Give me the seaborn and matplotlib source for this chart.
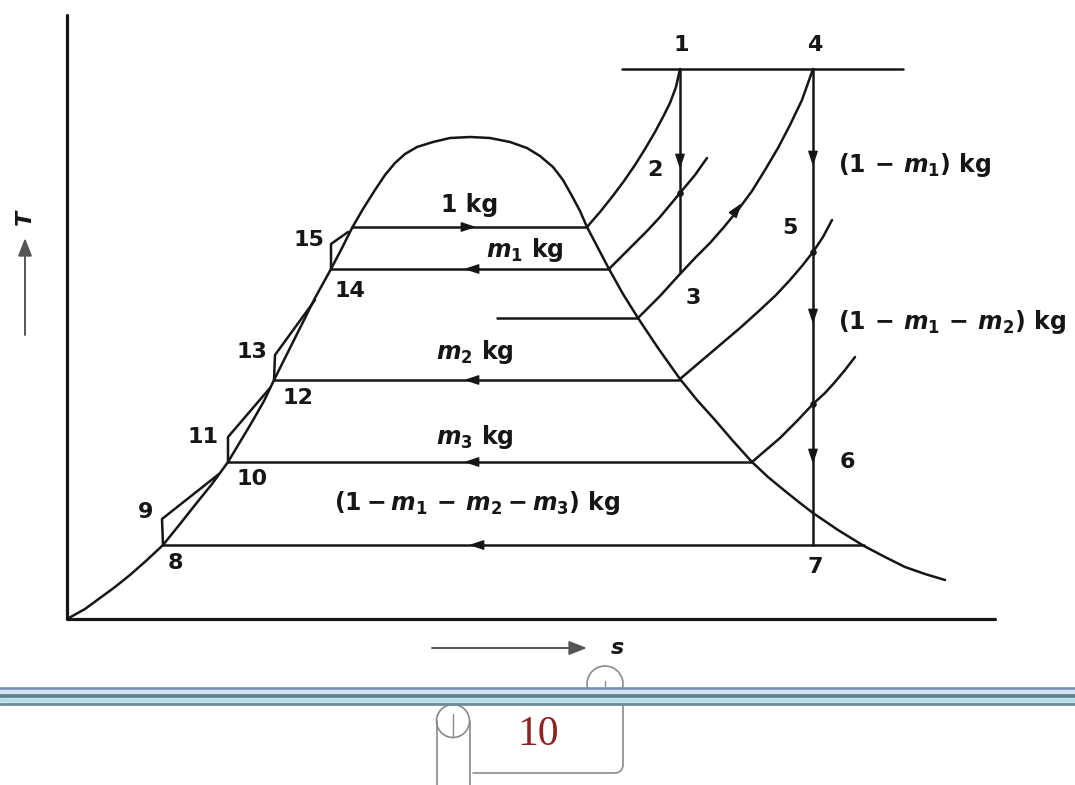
import numpy as np
import pandas as pd
import matplotlib
matplotlib.use("Agg")
import matplotlib.pyplot as plt
from matplotlib.patches import Arc
import seaborn as sns

# ---- T–s coordinates (origin at the corner of the axes) ----
# saturation dome: liquid line, critical region, vapour line
dome_s = [0, 18, 33, 48, 63, 80, 96, 113, 128, 145, 161, 173, 185, 197, 207,
          220, 233, 248, 264, 275, 285, 296, 308, 318, 328, 338, 350, 366, 383, 403,
          423, 443, 460, 473, 486, 496, 505, 513, 520, 531, 542, 556, 571, 591,
          613, 630, 648, 666, 685, 701, 718, 733, 746, 771, 797, 818, 838, 858, 878]
dome_T = [0, 10, 21, 32, 44, 59, 74, 95, 114, 135, 157, 177, 197, 218, 239,
          265, 291, 321, 350, 371, 391, 410, 429, 444, 456, 465, 472, 477, 481, 482,
          481, 477, 471, 463, 452, 439, 423, 408, 392, 371, 350, 325, 301, 271,
          240, 219, 199, 178, 157, 142, 128, 116, 106, 89, 73, 62, 52, 45, 39]

# constant-temperature lines inside the dome (left end, right end, level)
level_T = [392, 350, 301, 239, 157, 74]
level_s_left = [285, 264, 430, 207, 161, 96]
level_s_right = [520, 542, 571, 613, 685, 797]

# top pressure line through states 1 and 4
top_s = [555, 836]
top_T = [550, 550]

# isentropic expansions 1-3 and 4-7
exp13_s = [613, 613]
exp13_T = [550, 346]
exp47_s = [746, 746]
exp47_T = [550, 74]

# superheat pressure lines
supA_s = [520, 533, 545, 557, 568, 578, 588, 596, 603, 609, 613]
supA_T = [392, 407, 422, 438, 454, 470, 487, 502, 516, 532, 550]
supB_s = [542, 555, 568, 581, 593, 603, 613, 628, 640]
supB_T = [350, 363, 376, 389, 402, 414, 426, 444, 461]
supC_s = [571, 583, 593, 603, 613, 628, 643, 657, 671, 685, 698, 711, 723, 735, 746]
supC_T = [301, 313, 323, 334, 345, 361, 376, 392, 409, 428, 449, 471, 494, 519, 550]
supD_s = [613, 633, 653, 673, 693, 709, 723, 735, 746, 756, 765]
supD_T = [240, 257, 274, 291, 309, 324, 339, 353, 367, 382, 399]
supE_s = [685, 699, 713, 730, 746, 758, 768, 778, 788]
supE_T = [157, 169, 181, 198, 215, 226, 237, 249, 262]

# feed pump loops 8-9, 10-11, 12-13, 14-15
pump_s = [[96, 95, 152], [161, 161, 203], [207, 208, 248], [264, 264, 281]]
pump_T = [[74, 100, 145], [157, 182, 231], [239, 264, 319], [350, 375, 387]]

# bleed points on the expansion lines
bleed_s = [613, 746, 746]
bleed_T = [426, 367, 215]

# state labels
state_names = ["1", "4", "2", "5", "3", "6", "7",
               "15", "14", "13", "12", "11", "10", "9", "8"]
state_s = [614, 748, 588, 723, 626, 780, 748, 242, 283, 185, 231, 136, 185, 79, 108]
state_T = [574, 574, 449, 391, 321, 157, 52, 379, 328, 267, 221, 182, 140, 107, 56]

# mass-flow labels
mass_labels = [r"1 kg", r"$m_1$ kg", r"$m_2$ kg", r"$m_3$ kg",
               r"$(1- m_1 \,-\, m_2 - m_3)$ kg"]
mass_s = [403, 458, 408, 408, 410]
mass_T = [414, 369, 267, 182, 116]

side_labels = [r"$(1 \,-\, m_1)$ kg", r"$(1 \,-\, m_1 \,-\, m_2)$ kg"]
side_s = [771, 771]
side_T = [454, 297]

# flow-direction arrows: position and direction
arrow_s = [403, 403, 403, 403, 408, 613, 746, 746, 746, 671]
arrow_T = [392, 350, 239, 157, 74, 456, 459, 301, 161, 411]
arrow_dir = [(1, 0), (-1, 0), (-1, 0), (-1, 0), (-1, 0),
             (0, -1), (0, -1), (0, -1), (0, -1), (0.6, 0.8)]

INK = "#161616"

sns.set_theme(style="white")
plt.rcParams["font.family"] = ["DejaVu Sans"]
plt.rcParams["mathtext.fontset"] = "custom"
plt.rcParams["mathtext.rm"] = "DejaVu Sans:bold"
plt.rcParams["mathtext.it"] = "DejaVu Sans:italic:bold"
plt.rcParams["mathtext.bf"] = "DejaVu Sans:bold"

fig = plt.figure(figsize=(10.75, 7.85), dpi=100)
ax = fig.add_axes([0, 0, 1, 1])
ax.set_xlim(-67, 1008)
ax.set_ylim(-166, 619)
ax.axis("off")

# assemble all process lines into one long table
rows = []
def add_path(name, xs, ys):
    for x, y in zip(xs, ys):
        rows.append({"path": name, "s": x, "T": y})

add_path("dome", dome_s, dome_T)
for i, (a, b, t) in enumerate(zip(level_s_left, level_s_right, level_T)):
    add_path(f"level{i}", [a, b], [t, t])
add_path("top", top_s, top_T)
add_path("exp13", exp13_s, exp13_T)
add_path("exp47", exp47_s, exp47_T)
for name, xs, ys in [("A", supA_s, supA_T), ("B", supB_s, supB_T),
                     ("C", supC_s, supC_T), ("D", supD_s, supD_T),
                     ("E", supE_s, supE_T)]:
    add_path("sup" + name, xs, ys)
for i, (xs, ys) in enumerate(zip(pump_s, pump_T)):
    add_path(f"pump{i}", xs, ys)
paths = pd.DataFrame(rows)

sns.lineplot(data=paths, x="s", y="T", units="path", estimator=None, sort=False,
             color=INK, lw=1.8, legend=False, ax=ax)

# T and s axes
axes_df = pd.DataFrame({"s": [0, 0, 928], "T": [604, 0, 0]})
sns.lineplot(data=axes_df, x="s", y="T", estimator=None, sort=False,
             color=INK, lw=2.3, ax=ax)

# bleed points
sns.scatterplot(x=bleed_s, y=bleed_T, color=INK, s=22, linewidth=0, ax=ax)

# arrowheads
for x, y, (dx, dy) in zip(arrow_s, arrow_T, arrow_dir):
    ax.annotate("", xy=(x + 6 * dx, y + 6 * dy), xytext=(x - 6 * dx, y - 6 * dy),
                arrowprops=dict(arrowstyle="-|>,head_length=0.9,head_width=0.3",
                                mutation_scale=10, color=INK, lw=1.0,
                                shrinkA=0, shrinkB=0))

# labels
for name, x, y in zip(state_names, state_s, state_T):
    ax.text(x, y, name, ha="center", va="center", fontsize=16,
            fontweight="bold", color=INK)
for name, x, y in zip(mass_labels, mass_s, mass_T):
    ax.text(x, y, name, ha="center", va="center", fontsize=17,
            fontweight="bold", color=INK)
for name, x, y in zip(side_labels, side_s, side_T):
    ax.text(x, y, name, ha="left", va="center", fontsize=17,
            fontweight="bold", color=INK)

# axis titles with arrows
ax.annotate("", xy=(-42, 381), xytext=(-42, 284),
            arrowprops=dict(arrowstyle="-|>,head_length=0.9,head_width=0.35",
                            mutation_scale=12, color="#555555", lw=1.4,
                            shrinkA=0, shrinkB=0))
ax.text(-42, 402, "T", rotation=90, ha="center", va="center", fontsize=16,
        fontstyle="italic", fontweight="bold", color=INK)
ax.annotate("", xy=(520, -29), xytext=(365, -29),
            arrowprops=dict(arrowstyle="-|>,head_length=0.9,head_width=0.35",
                            mutation_scale=12, color="#555555", lw=1.4,
                            shrinkA=0, shrinkB=0))
ax.text(550, -29, "s", ha="center", va="center", fontsize=16,
        fontstyle="italic", fontweight="bold", color=INK)

# page footer: ruled band and scroll with the page number
ax.axhspan(-85, -68, color="#cfe4f2", lw=0)
band = [(-69, "#7a8fad", 1.8), (-76.5, "#5b7f8c", 2.6),
        (-80.5, "#aee0e6", 2.2), (-84.5, "#6f8c9c", 2.0)]
for y, c, w in band:
    ax.axhline(y, color=c, lw=w)

GREY = "#8a8a8a"
ax.add_patch(Arc((538, -65), 36, 36, theta1=-15, theta2=195, color=GREY, lw=1.2))
ax.plot([538, 538], [-62, -67], color=GREY, lw=1.0)
ax.plot([556, 556], [-87, -146], color=GREY, lw=1.2)
ax.add_patch(Arc((548, -146), 16, 16, theta1=270, theta2=360, color=GREY, lw=1.2))
ax.plot([406, 548], [-154, -154], color=GREY, lw=1.2)
ax.add_patch(Arc((386, -102), 33, 33, theta1=0, theta2=360, color=GREY, lw=1.2))
ax.plot([370, 370], [-102, -170], color=GREY, lw=1.2)
ax.plot([403, 403], [-102, -170], color=GREY, lw=1.2)
ax.plot([386, 386], [-95, -118], color=GREY, lw=1.0)
ax.text(471, -116, "10", ha="center", va="center", fontsize=30,
        family="Liberation Serif", color="#8e2323")

fig.savefig("out.png", dpi=100, facecolor="white")
